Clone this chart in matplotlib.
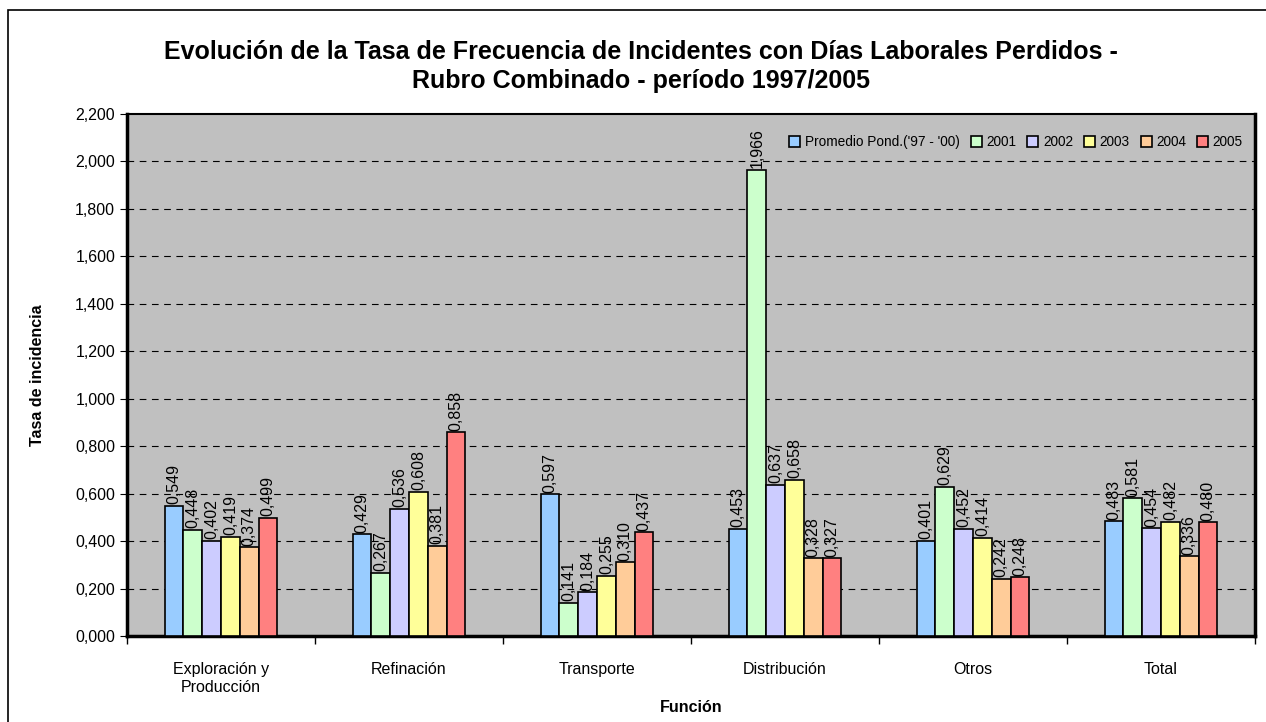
import matplotlib
matplotlib.use("Agg")
import matplotlib.pyplot as plt
from matplotlib.patches import Rectangle
from matplotlib.ticker import FuncFormatter
import numpy as np

plt.rcParams['font.family'] = ['Liberation Sans', 'DejaVu Sans']

# data
funciones = ['Exploración y\nProducción', 'Refinación', 'Transporte', 'Distribución', 'Otros', 'Total']
series = ["Promedio Pond.('97 - '00)", '2001', '2002', '2003', '2004', '2005']
promedio = [0.549, 0.429, 0.597, 0.453, 0.401, 0.483]
v2001 = [0.448, 0.267, 0.141, 1.966, 0.629, 0.581]
v2002 = [0.402, 0.536, 0.184, 0.637, 0.452, 0.454]
v2003 = [0.419, 0.608, 0.255, 0.658, 0.414, 0.482]
v2004 = [0.374, 0.381, 0.310, 0.328, 0.242, 0.336]
v2005 = [0.499, 0.858, 0.437, 0.327, 0.248, 0.480]
colores = ['#99CCFF', '#CCFFCC', '#CCCCFF', '#FFFF99', '#FFCC99', '#FF8080']

fmt = lambda v: ('%.3f' % v).replace('.', ',')

fig = plt.figure(figsize=(12.66, 7.22), dpi=100)
ax = fig.add_axes([0.1003, 0.1191, 0.891, 0.723])
ax.set_facecolor('#C0C0C0')

# outer chart frame (runs past right/bottom edge like the source)
fig.patches.append(Rectangle((8/1266, -0.05), 1.1, 1 - 10/722 + 0.05, transform=fig.transFigure,
                             fill=False, edgecolor='black', linewidth=1.2))

x = np.arange(len(funciones))
w = 0.1
datos = [promedio, v2001, v2002, v2003, v2004, v2005]
for i, (vals, c, lab) in enumerate(zip(datos, colores, series)):
    pos = x + (i - 2.5) * w
    ax.bar(pos, vals, width=w, color=c, edgecolor='black', linewidth=1.2, label=lab, zorder=3)
    for p, v in zip(pos, vals):
        ax.text(p, v + 0.006, fmt(v), rotation=90, ha='center', va='bottom', fontsize=11.5, zorder=4)

ax.set_xlim(-0.5, len(funciones) - 0.5)
ax.set_ylim(0, 2.2)
ax.set_yticks(np.arange(0, 2.21, 0.2))
ax.yaxis.set_major_formatter(FuncFormatter(lambda v, p: fmt(v)))
for yv in np.arange(0.2, 2.01, 0.2):
    ax.axhline(yv, color='black', linestyle=(0, (6, 5)), linewidth=0.8, zorder=1)

ax.set_xticks(x)
ax.set_xticklabels(funciones, fontsize=11.5)
ax.tick_params(axis='x', length=0, pad=19)
ax.set_xticks(np.arange(-0.5, len(funciones), 1), minor=True)
ax.tick_params(axis='x', which='minor', length=6, width=1)
ax.tick_params(axis='y', labelsize=11.5, length=5)

for s in ax.spines.values():
    s.set_linewidth(2.5)
    s.set_color('black')
ax.spines['top'].set_linewidth(1.5)

ax.set_ylabel('Tasa de incidencia', fontsize=11.5, fontweight='bold', labelpad=22)
ax.set_xlabel('Función', fontsize=11.5, fontweight='bold', labelpad=4)

fig.suptitle('Evolución de la Tasa de Frecuencia de Incidentes con Días Laborales Perdidos -\n'
             'Rubro Combinado - período 1997/2005', fontsize=18, fontweight='bold',
             x=0.506, y=0.944, linespacing=1.25)

leg = ax.legend(loc='upper right', ncol=6, frameon=False, fontsize=9.8, handlelength=0.8,
                handleheight=0.8, handletextpad=0.35, columnspacing=0.8, borderaxespad=0.4,
                bbox_to_anchor=(0.999, 0.98))

fig.savefig('out.png', dpi=100)
